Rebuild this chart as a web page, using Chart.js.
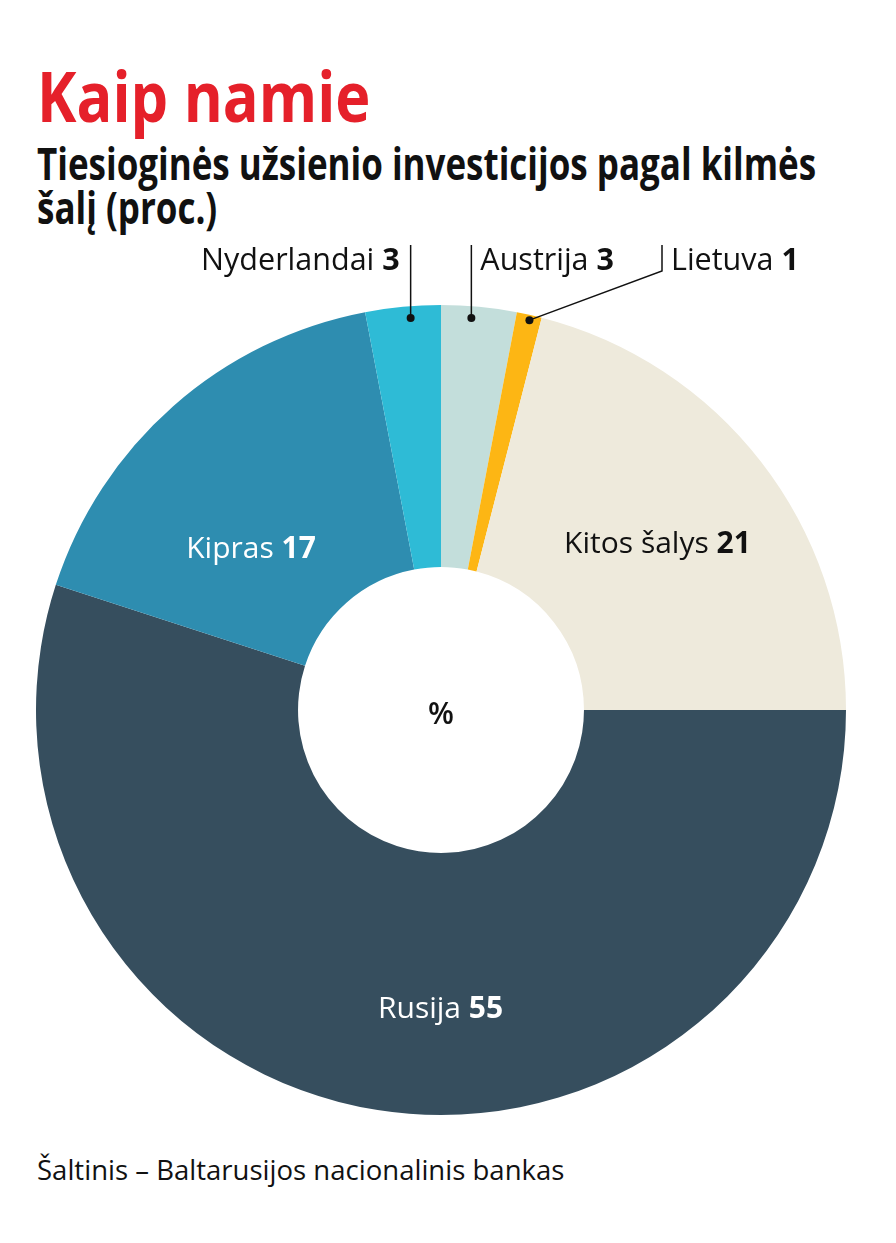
<!DOCTYPE html>
<html lang="lt">
<head>
<meta charset="utf-8">
<script src="https://cdn.jsdelivr.net/npm/chart.js@4.4.1/dist/chart.umd.min.js"></script>
<style>
  html, body { margin: 0; padding: 0; background: #fff; }
  body { width: 896px; height: 1243px; position: relative; overflow: hidden; font-family: "Open Sans", "Noto Sans", sans-serif; color: #111; }
  .txt { position: absolute; left: 37px; white-space: nowrap; transform-origin: 0 0; }
  #title { top: 60px; font-size: 70px; line-height: 70px; font-weight: 700; color: #e5202a; transform: scaleX(0.85); }
  #subtitle { top: 141px; font-size: 45px; line-height: 44px; font-weight: 700; transform: scaleX(0.777); }
  #source { top: 1156px; font-size: 27px; line-height: 27px; transform: scaleX(1.02); }
  #wrap { position: absolute; left: 0; top: 230px; width: 896px; height: 900px; }
</style>
</head>
<body>
<div id="title" class="txt">Kaip namie</div>
<div id="subtitle" class="txt">Tiesioginės užsienio investicijos pagal kilmės<br>šalį (proc.)</div>
<div id="wrap"><canvas id="pie" width="896" height="900"></canvas></div>
<div id="source" class="txt">Šaltinis – Baltarusijos nacionalinis bankas</div>

<script>
// data, clockwise from 12 o'clock
const categories = ["Austrija", "Lietuva", "Kitos šalys", "Rusija", "Kipras", "Nyderlandai"];
const values = [3, 1, 21, 55, 17, 3];
const colors = ["#c3dedb", "#fdb614", "#eeeadc", "#364e5e", "#2e8db0", "#2ebbd6"];

/* label placement: f = share along the arc, r = share across the ring */
const insideLabels = [
  { i: 2, f: 0.5, r: 0.5, color: "#111" },
  { i: 3, f: 0.455, r: 0.59, color: "#fff" },
  { i: 4, f: 0.37, r: 0.41, color: "#fff" }
];
const callouts = [
  { i: 5, f: 0.59, r: 0.955, side: "left" },
  { i: 0, f: 0.41, r: 0.955, side: "right" },
  { i: 1, f: 0.55, r: 0.98, side: "right", elbowX: 662 }
];
const calloutTop = 15;      // line top, canvas px
const calloutBase = 40;     // text baseline

const FONT = '"Open Sans", "Noto Sans", sans-serif';

function pointOn(arc, f, r) {
  const p = arc.getProps(["x", "y", "startAngle", "endAngle", "innerRadius", "outerRadius"], true);
  const a = p.startAngle + f * (p.endAngle - p.startAngle);
  const rad = p.innerRadius + r * (p.outerRadius - p.innerRadius);
  return { x: p.x + rad * Math.cos(a), y: p.y + rad * Math.sin(a) };
}

function drawLabel(ctx, name, value, x, y, align, size, color) {
  ctx.font = `400 ${size}px ${FONT}`;
  const w1 = ctx.measureText(name + " ").width;
  ctx.font = `700 ${size}px ${FONT}`;
  const w2 = ctx.measureText(String(value)).width;
  const w = w1 + w2;
  let x0 = x;
  if (align === "center") x0 = x - w / 2;
  if (align === "right") x0 = x - w;
  ctx.fillStyle = color;
  ctx.textAlign = "left";
  ctx.textBaseline = "alphabetic";
  ctx.font = `400 ${size}px ${FONT}`;
  ctx.fillText(name + " ", x0, y);
  ctx.font = `700 ${size}px ${FONT}`;
  ctx.fillText(String(value), x0 + w1, y);
}

const labelPlugin = {
  id: "labels",
  afterDraw(chart) {
    const ctx = chart.ctx;
    const arcs = chart.getDatasetMeta(0).data;
    ctx.save();

    insideLabels.forEach(l => {
      const p = pointOn(arcs[l.i], l.f, l.r);
      drawLabel(ctx, categories[l.i], values[l.i], p.x, p.y + 30 * 0.36, "center", 30, l.color);
    });

    ctx.lineWidth = 1.5;
    callouts.forEach(c => {
      const p = pointOn(arcs[c.i], c.f, c.r);
      const lx = c.elbowX !== undefined ? c.elbowX : p.x;
      ctx.strokeStyle = "#111";
      ctx.fillStyle = "#111";
      ctx.beginPath();
      ctx.moveTo(p.x, p.y);
      if (c.elbowX !== undefined) ctx.lineTo(lx, calloutBase + 1);
      ctx.lineTo(lx, calloutTop);
      ctx.stroke();
      ctx.beginPath();
      ctx.arc(p.x, p.y, 4, 0, Math.PI * 2);
      ctx.fill();
      if (c.side === "left") {
        drawLabel(ctx, categories[c.i], values[c.i], lx - 11, calloutBase, "right", 30.5, "#111");
      } else {
        drawLabel(ctx, categories[c.i], values[c.i], lx + 9, calloutBase, "left", 30.5, "#111");
      }
    });

    /* centre mark */
    const c0 = arcs[0].getProps(["x", "y"], true);
    ctx.fillStyle = "#111";
    ctx.font = `600 30px ${FONT}`;
    ctx.textAlign = "center";
    ctx.textBaseline = "alphabetic";
    ctx.fillText("%", c0.x, c0.y + 30 * 0.36 + 3);
    ctx.restore();
  }
};

new Chart(document.getElementById("pie"), {
  type: "doughnut",
  data: {
    labels: categories,
    datasets: [{
      data: values,
      backgroundColor: colors,
      borderWidth: 0
    }]
  },
  options: {
    responsive: false,
    animation: false,
    cutout: "35.3%",
    layout: { padding: { left: 36, right: 50, top: 75, bottom: 15 } },
    plugins: {
      legend: { display: false },
      tooltip: { enabled: false }
    }
  },
  plugins: [labelPlugin]
});
</script>
</body>
</html>
